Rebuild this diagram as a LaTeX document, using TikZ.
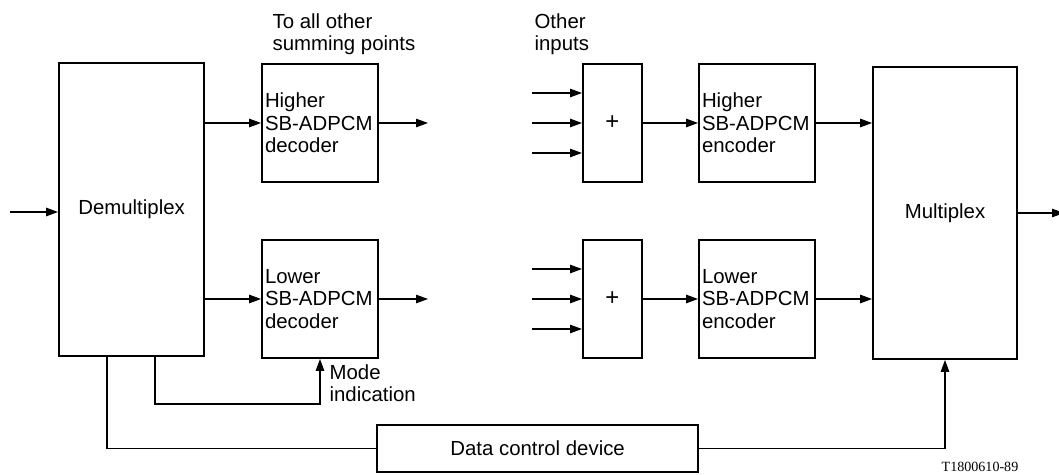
\documentclass[tikz,border=0pt]{standalone}
\usepackage{fontspec}
\setmainfont{Liberation Sans}
\newfontfamily\tagfont{Liberation Serif}
\usepackage{tikz}
\usetikzlibrary{arrows.meta}

\begin{document}
\begin{tikzpicture}[
  font=\fontsize{14.5}{16}\selectfont,
  line width=0.9pt,
  block/.style={draw,line width=1.3pt,minimum width=3.6cm,minimum height=7.3cm},
  coder/.style={draw,line width=1.3pt,minimum width=2.9cm,minimum height=2.95cm,
                text width=2.75cm,align=left,inner xsep=2pt},
  adder/.style={draw,line width=1.3pt,minimum width=1.475cm,minimum height=2.95cm,
                font=\fontsize{17}{17}\selectfont},
  note/.style={anchor=west,align=left,inner sep=0pt},
  >={Triangle[length=8.5pt,width=6pt]}
]
  \useasboundingbox (0,0) rectangle (26.475,-11.875);

  \node[block,minimum width=3.63cm,minimum height=7.33cm] (dmx) at (3.29,-5.24) {Demultiplex};
  \node[coder] (dhi) at (8.0,-3.075) {Higher\\SB-ADPCM\\decoder};
  \node[coder] (dlo) at (8.0,-7.475) {Lower\\SB-ADPCM\\decoder};
  \node[adder] (shi) at (15.31,-3.075) {+};
  \node[adder] (slo) at (15.31,-7.475) {+};
  \node[coder] (ehi) at (18.925,-3.075) {Higher\\SB-ADPCM\\encoder};
  \node[coder] (elo) at (18.925,-7.475) {Lower\\SB-ADPCM\\encoder};
  \node[block] (mux) at (23.625,-5.325) {Multiplex};
  \node[draw,line width=1.3pt,minimum width=8.025cm,minimum height=1.175cm] (dcd) at (13.44,-11.21) {Data control device};

  \node[note] (sumpts) at (6.8,-0.85) {To all other\\summing points};
  \node[note] (others) at (13.35,-0.85) {Other\\inputs};
  \node[note] (modelbl) at (8.225,-9.575) {Mode\\indication};
  \node[inner sep=0pt] (tag) at (24.5,-11.675) {\tagfont\fontsize{10}{12}\selectfont T1800610-89};

  \coordinate (din) at (0.25,-5.3);
  \coordinate (mout) at (26.6,-5.325);
  \coordinate (dhiout) at (10.7,-3.075);
  \coordinate (dloout) at (10.7,-7.475);
  \coordinate (mode) at (8.0,-10.1);

  \draw[->] (din) -- (din -| dmx.west);
  \draw[->] (dmx.east |- dhi) -- (dhi.west);
  \draw[->] (dmx.east |- dlo) -- (dlo.west);
  \draw[->] (dhi.east) -- (dhiout);
  \draw[->] (dlo.east) -- (dloout);
  \foreach \s in {shi,slo}
    \foreach \dy in {0.75,0,-0.75}
      \draw[->] ([xshift=-1.25cm,yshift=\dy cm]\s.west) -- ([yshift=\dy cm]\s.west);
  \draw[->] (shi.east) -- (ehi.west);
  \draw[->] (slo.east) -- (elo.west);
  \draw[->] (ehi.east) -- (ehi.east -| mux.west);
  \draw[->] (elo.east) -- (elo.east -| mux.west);
  \draw[->] (mux.east) -- (mout);

  % control paths below the demultiplexer
  \draw[->] ([xshift=0.585cm]dmx.south) |- (mode) -- (dlo.south);
  \draw ([xshift=-0.615cm]dmx.south) |- (dcd.west);
  \draw[->] (dcd.east) -| (mux.south);
\end{tikzpicture}
\end{document}
